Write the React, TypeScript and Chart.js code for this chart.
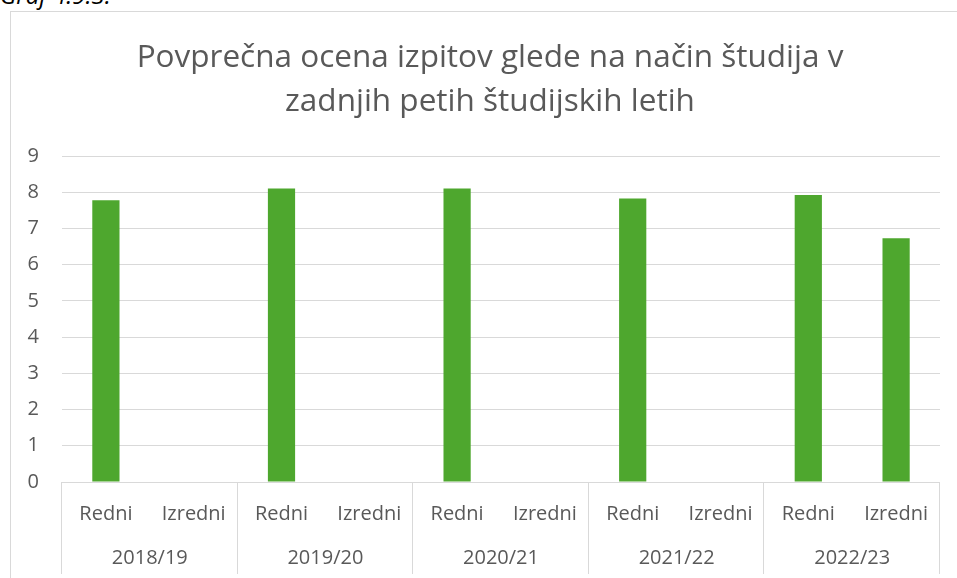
import React, { useEffect, useRef } from "react";
import { Chart, registerables } from "chart.js";

Chart.register(...registerables);

const years = ["2018/19", "2019/20", "2020/21", "2021/22", "2022/23"];
const studyModes = ["Redni", "Izredni"];
const subLabels = years.flatMap(() => studyModes);
const averageGrades: (number | null)[] = [7.78, null, 8.1, null, 8.1, null, 7.83, null, 7.92, 6.73];
const yTicks = [0, 1, 2, 3, 4, 5, 6, 7, 8, 9];
const titleLines = ["Povprečna ocena izpitov glede na način študija v", "zadnjih petih študijskih letih"];

const FONT = "'Open Sans', sans-serif";
const TEXT = "#595959";
const GRID = "#d9d9d9";
const GREEN = "#4ea72e";

export default function App() {
  const ref = useRef<HTMLCanvasElement | null>(null);

  useEffect(() => {
    if (!ref.current) return;
    const groupPlugin = {
      id: "groupAxis",
      afterDraw(chart: any) {
        const { ctx } = chart;
        const x = chart.scales.x;
        const top = chart.chartArea.bottom;
        const bottom = top + 92;
        ctx.save();
        ctx.strokeStyle = GRID;
        ctx.lineWidth = 1;
        for (let g = 0; g <= years.length; g++) {
          let px: number;
          if (g === 0) px = x.left;
          else if (g === years.length) px = x.right;
          else px = (x.getPixelForValue(2 * g - 1) + x.getPixelForValue(2 * g)) / 2;
          const p = Math.round(px) - 0.5;
          ctx.beginPath();
          ctx.moveTo(p, top);
          ctx.lineTo(p, bottom);
          ctx.stroke();
        }
        ctx.fillStyle = TEXT;
        ctx.font = `20px ${FONT}`;
        ctx.textAlign = "center";
        ctx.textBaseline = "middle";
        years.forEach((yr, g) => {
          const cx = (x.getPixelForValue(2 * g) + x.getPixelForValue(2 * g + 1)) / 2;
          ctx.fillText(yr, cx, top + 76);
        });
        ctx.font = `31.5px ${FONT}`;
        titleLines.forEach((line, i) => {
          ctx.fillText(line, 479, 46 + i * 44);
        });
        ctx.restore();
      },
    };

    const chart = new Chart(ref.current, {
      type: "bar",
      data: {
        labels: subLabels,
        datasets: [
          {
            data: averageGrades,
            backgroundColor: GREEN,
            barPercentage: 0.31,
            categoryPercentage: 1,
          },
        ],
      },
      options: {
        animation: false,
        responsive: false,
        layout: { padding: { top: 144, right: 17, left: 0, bottom: 0 } },
        plugins: { legend: { display: false }, title: { display: false }, tooltip: { enabled: false } },
        scales: {
          x: {
            type: "category",
            grid: { display: false },
            border: { display: false },
            ticks: { color: TEXT, font: { family: FONT, size: 20 }, padding: 12, maxRotation: 0, autoSkip: false },
            afterFit(scale: any) {
              scale.height = 96;
            },
          },
          y: {
            min: 0,
            max: 9,
            afterBuildTicks(scale: any) {
              scale.ticks = yTicks.map((v) => ({ value: v }));
            },
            grid: { color: GRID, lineWidth: 1, drawTicks: false },
            border: { display: false },
            ticks: { color: TEXT, font: { family: FONT, size: 20 }, padding: 23 },
            afterFit(scale: any) {
              scale.width = 51;
            },
          },
        },
      },
      plugins: [groupPlugin],
    });
    return () => chart.destroy();
  }, []);

  return (
    <div style={{ position: "fixed", left: 0, top: 0, width: 957, height: 578, overflow: "hidden", background: "#fff" }}>
      <div
        style={{
          position: "absolute",
          left: 0,
          top: -22,
          fontFamily: FONT,
          fontStyle: "italic",
          fontSize: 24,
          color: "#000",
          whiteSpace: "nowrap",
        }}
      >
        Graf 4.9.3.
      </div>
      <div
        style={{
          position: "absolute",
          left: 10,
          top: 11,
          width: 980,
          height: 600,
          border: `1px solid ${GRID}`,
          boxSizing: "border-box",
        }}
      />
      <canvas ref={ref} width={946} height={566} style={{ position: "absolute", left: 11, top: 12, width: 946, height: 566 }} />
    </div>
  );
}
